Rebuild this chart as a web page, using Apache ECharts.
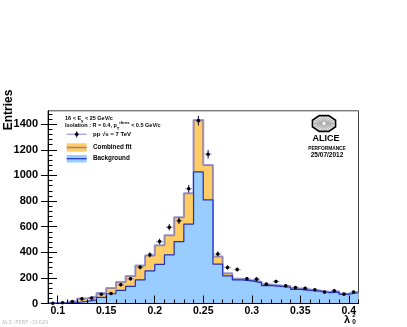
<!DOCTYPE html>
<html>
<head>
<meta charset="utf-8">
<script src="https://cdn.jsdelivr.net/npm/echarts@6/dist/echarts.min.js"></script>
<style>
html, body { margin: 0; padding: 0; background: #fff; }
#main { width: 407px; height: 327px; }
</style>
</head>
<body>
<div id="main"></div>
<script>
// lambda0^2 bins (low edges), width 0.01
var binLow = [0.09, 0.10, 0.11, 0.12, 0.13, 0.14, 0.15, 0.16, 0.17, 0.18, 0.19, 0.20, 0.21, 0.22, 0.23, 0.24,
              0.25, 0.26, 0.27, 0.28, 0.29, 0.30, 0.31, 0.32, 0.33, 0.34, 0.35, 0.36, 0.37, 0.38, 0.39, 0.40];
var binWidth = 0.01;
var combinedFit = [3, 8, 18, 40, 55, 82, 122, 168, 214, 297, 375, 455, 534, 674, 861, 1434,
                   1082, 367, 237, 193, 182, 170, 148, 140, 134, 117, 109, 101, 90, 94, 76, 89];
var background = [1, 4, 8, 16, 28, 48, 76, 102, 133, 185, 255, 305, 380, 484, 620, 1028,
                  809, 307, 216, 185, 176, 163, 140, 134, 127, 111, 103, 96, 85, 89, 72, 84];
var dataPP = [2, 6, 16, 36, 42, 72, 78, 146, 193, 283, 380, 484, 595, 646, 896, 1428,
              1166, 387, 281, 265, 193, 190, 151, 172, 138, 125, 119, 107, 89, 99, 73, 89];
var dataErr = [1.5, 2.5, 4, 6, 6.5, 8.5, 9, 12, 14, 17, 19.5, 22, 24.5, 25.5, 30, 38,
               34, 19.5, 17, 16, 14, 14, 12, 13, 12, 11, 11, 10, 9.5, 10, 8.5, 9.5];
var xLabels = [0.1, 0.15, 0.2, 0.25, 0.3, 0.35, 0.4];
var yLabels = [0, 200, 400, 600, 800, 1000, 1200, 1400];

var FONT = 'Liberation Sans';

function steps(vals) {
  var out = binLow.map(function (x, i) { return [x, vals[i]]; });
  out.push([binLow[binLow.length - 1] + binWidth, vals[vals.length - 1]]);
  return out;
}

// minor ticks
var xMinor = binLow.concat([0.41]);
var yMinor = [];
for (var v = 0; v <= 1500; v += 40) yMinor.push(v);

// ALICE emblem
var logoCx = 324, logoCy = 123.5, logoRx = 12.5, logoRy = 8.5;
var octa = [];
for (var k = 0; k < 8; k++) {
  var a = Math.PI / 8 + k * Math.PI / 4;
  octa.push([logoCx + logoRx * Math.cos(a), logoCy + logoRy * Math.sin(a)]);
}
var spokes = [];
for (var k = 0; k < 24; k++) {
  var a = k * Math.PI / 12;
  spokes.push({
    type: 'line', silent: true,
    shape: { x1: logoCx + 2.5 * Math.cos(a), y1: logoCy + 1.8 * Math.sin(a),
             x2: logoCx + (logoRx - 2) * Math.cos(a), y2: logoCy + (logoRy - 1.5) * Math.sin(a) },
    style: { stroke: '#9a9a9a', lineWidth: 0.7 }
  });
}

var chart = echarts.init(document.getElementById('main'));
var option = {
  backgroundColor: '#fff',
  animation: false,
  grid: { left: 48, right: 48.5, top: 110.8, bottom: 23.5, show: true, borderColor: '#444', borderWidth: 1, backgroundColor: 'transparent' },
  xAxis: [{
    type: 'value', min: 0.09, max: 0.41, z: 4,
    axisLine: { show: true, lineStyle: { color: '#000', width: 1 } },
    axisTick: { show: true, inside: true, length: 8, customValues: xLabels, lineStyle: { color: '#000' } },
    axisLabel: { customValues: xLabels, margin: 2.5, color: '#000', fontFamily: FONT, fontWeight: 'bold', fontSize: 10.5,
                 formatter: function (v) { return String(+v.toFixed(2)); } },
    splitLine: { show: false }
  }, {
    type: 'value', min: 0.09, max: 0.41, z: 4, position: 'bottom',
    axisLine: { show: false },
    axisTick: { show: true, inside: true, length: 4, customValues: xMinor, lineStyle: { color: '#000' } },
    axisLabel: { show: false },
    splitLine: { show: false }
  }],
  yAxis: [{
    type: 'value', min: 0, max: 1505, position: 'left', z: 4,
    axisLine: { show: true, lineStyle: { color: '#000', width: 1 } },
    axisTick: { show: true, inside: false, length: 7, customValues: yLabels, lineStyle: { color: '#000' } },
    axisLabel: { customValues: yLabels, margin: 10, color: '#000', fontFamily: FONT, fontWeight: 'bold', fontSize: 11,
                 formatter: function (v) { return String(v); } },
    splitLine: { show: false }
  }, {
    type: 'value', min: 0, max: 1505, position: 'left', z: 4,
    axisLine: { show: false },
    axisTick: { show: true, inside: true, length: 9, customValues: yLabels, lineStyle: { color: '#000' } },
    axisLabel: { show: false },
    splitLine: { show: false }
  }, {
    type: 'value', min: 0, max: 1505, position: 'left', z: 4,
    axisLine: { show: false },
    axisTick: { show: true, inside: true, length: 4.5, customValues: yMinor, lineStyle: { color: '#000' } },
    axisLabel: { show: false },
    splitLine: { show: false }
  }],
  series: [{
    name: 'Combined fit', type: 'line', step: 'end', symbol: 'none', z: 2,
    data: steps(combinedFit),
    lineStyle: { color: 'rgba(70,70,190,0.55)', width: 2 },
    areaStyle: { color: '#ffcc66', opacity: 1 }
  }, {
    name: 'Background', type: 'line', step: 'end', symbol: 'none', z: 3,
    data: steps(background),
    lineStyle: { color: '#2030c0', width: 1.2 },
    areaStyle: { color: '#99ccff', opacity: 1 }
  }, {
    name: 'pp', type: 'custom', z: 6,
    data: dataPP.map(function (y, i) { return [binLow[i] + binWidth / 2, y, dataErr[i]]; }),
    renderItem: function (params, api) {
      var x = api.value(0), y = api.value(1), e = api.value(2);
      var c = api.coord([x, y]);
      var top = api.coord([x, y + e]);
      var bot = api.coord([x, Math.max(0, y - e)]);
      var l = api.coord([x - 0.0036, y]);
      var r = api.coord([x + 0.0036, y]);
      return {
        type: 'group',
        children: [
          { type: 'line', shape: { x1: l[0], y1: c[1], x2: r[0], y2: c[1] }, style: { stroke: 'rgba(110,110,210,0.6)', lineWidth: 1.4 } },
          { type: 'line', shape: { x1: c[0], y1: top[1], x2: c[0], y2: bot[1] }, style: { stroke: '#0a0a50', lineWidth: 1 } },
          { type: 'circle', shape: { cx: c[0], cy: c[1], r: 1.8 }, style: { fill: '#000' } }
        ]
      };
    }
  }],
  graphic: [
    { type: 'text', x: 9, y: 110, rotation: Math.PI / 2, silent: true,
      style: { text: 'Entries', fontFamily: FONT, fontWeight: 'bold', fontSize: 12, fill: '#000', align: 'center', verticalAlign: 'middle' } },
    { type: 'text', x: 347, y: 319.5, silent: true,
      style: { text: 'λ', fontFamily: FONT, fontWeight: 'bold', fontSize: 11, fill: '#000', align: 'center', verticalAlign: 'middle' } },
    { type: 'text', x: 354, y: 315.8, silent: true,
      style: { text: '2', fontFamily: FONT, fontWeight: 'bold', fontSize: 6, fill: '#000', align: 'center', verticalAlign: 'middle' } },
    { type: 'text', x: 354, y: 322.5, silent: true,
      style: { text: '0', fontFamily: FONT, fontWeight: 'bold', fontSize: 6.5, fill: '#000', align: 'center', verticalAlign: 'middle' } },
    { type: 'text', x: 2, y: 323, silent: true,
      style: { text: 'ALI-PERF-31629', fontFamily: 'DejaVu Sans Mono', fontSize: 5.5, fill: '#bdbdbd', verticalAlign: 'middle' } },

    // legend block
    { type: 'text', x: 65, y: 118, silent: true,
      style: { text: '{a|16 < E}{s|γ}{a| < 25 GeV/c}', fontFamily: FONT, fontWeight: 'bold', fill: '#000', verticalAlign: 'middle',
               rich: { a: { fontSize: 5.5, lineHeight: 10, fontFamily: FONT, fontWeight: 'bold' },
                       s: { fontSize: 4.2, lineHeight: 4, verticalAlign: 'bottom', fontFamily: FONT, fontWeight: 'bold' } } } },
    { type: 'text', x: 65, y: 125.5, silent: true,
      style: { text: '{a|Isolation : R = 0.4, p}{s|T}{u|thres}{a| < 0.5 GeV/c}', fontFamily: FONT, fontWeight: 'bold', fill: '#000', verticalAlign: 'middle',
               rich: { a: { fontSize: 5.5, lineHeight: 10, fontFamily: FONT, fontWeight: 'bold' },
                       s: { fontSize: 4.2, lineHeight: 4, verticalAlign: 'bottom', fontFamily: FONT, fontWeight: 'bold' },
                       u: { fontSize: 4.2, lineHeight: 4, verticalAlign: 'top', fontFamily: FONT, fontWeight: 'bold' } } } },
    { type: 'line', silent: true, shape: { x1: 66.7, y1: 134.3, x2: 86.7, y2: 134.3 }, style: { stroke: 'rgba(110,110,210,0.6)', lineWidth: 1.4 } },
    { type: 'line', silent: true, shape: { x1: 76.7, y1: 131.3, x2: 76.7, y2: 137.5 }, style: { stroke: '#0a0a50', lineWidth: 1 } },
    { type: 'circle', silent: true, shape: { cx: 76.7, cy: 134.3, r: 1.8 }, style: { fill: '#000' } },
    { type: 'text', x: 93, y: 134.5, silent: true,
      style: { text: 'pp √s = 7 TeV', fontFamily: FONT, fontWeight: 'bold', fontSize: 6, fill: '#000', verticalAlign: 'middle' } },
    { type: 'rect', silent: true, shape: { x: 66.7, y: 143.3, width: 20, height: 8.4 }, style: { fill: '#ffcc66' } },
    { type: 'line', silent: true, shape: { x1: 66.7, y1: 147.5, x2: 86.7, y2: 147.5 }, style: { stroke: 'rgba(70,70,190,0.55)', lineWidth: 1.5 } },
    { type: 'text', x: 93, y: 147.5, silent: true,
      style: { text: 'Combined fit', fontFamily: FONT, fontWeight: 'bold', fontSize: 6.3, fill: '#000', verticalAlign: 'middle' } },
    { type: 'rect', silent: true, shape: { x: 66.7, y: 155, width: 20, height: 7.5 }, style: { fill: '#99ccff' } },
    { type: 'line', silent: true, shape: { x1: 66.7, y1: 158.7, x2: 86.7, y2: 158.7 }, style: { stroke: '#2030c0', lineWidth: 1.2 } },
    { type: 'text', x: 93, y: 158.7, silent: true,
      style: { text: 'Background', fontFamily: FONT, fontWeight: 'bold', fontSize: 6.3, fill: '#000', verticalAlign: 'middle' } },

    // ALICE performance logo
    { type: 'polygon', silent: true, shape: { points: octa }, style: { fill: '#e4e4e4', stroke: '#000', lineWidth: 1.6 } }
  ].concat(spokes).concat([
    { type: 'circle', silent: true, shape: { cx: logoCx, cy: logoCy, r: 2 }, style: { fill: '#fff', stroke: '#888', lineWidth: 0.5 } },
    { type: 'text', x: 326, y: 138.5, silent: true,
      style: { text: 'ALICE', fontFamily: FONT, fontWeight: 'bold', fontSize: 9, fill: '#000', align: 'center', verticalAlign: 'middle' } },
    { type: 'text', x: 327, y: 148.3, silent: true,
      style: { text: 'PERFORMANCE', fontFamily: FONT, fontWeight: 'bold', fontSize: 4.8, fill: '#000', align: 'center', verticalAlign: 'middle' } },
    { type: 'text', x: 327, y: 155.5, silent: true,
      style: { text: '25/07/2012', fontFamily: FONT, fontWeight: 'bold', fontSize: 6.5, fill: '#000', align: 'center', verticalAlign: 'middle' } }
  ])
};
chart.setOption(option);
</script>
</body>
</html>
